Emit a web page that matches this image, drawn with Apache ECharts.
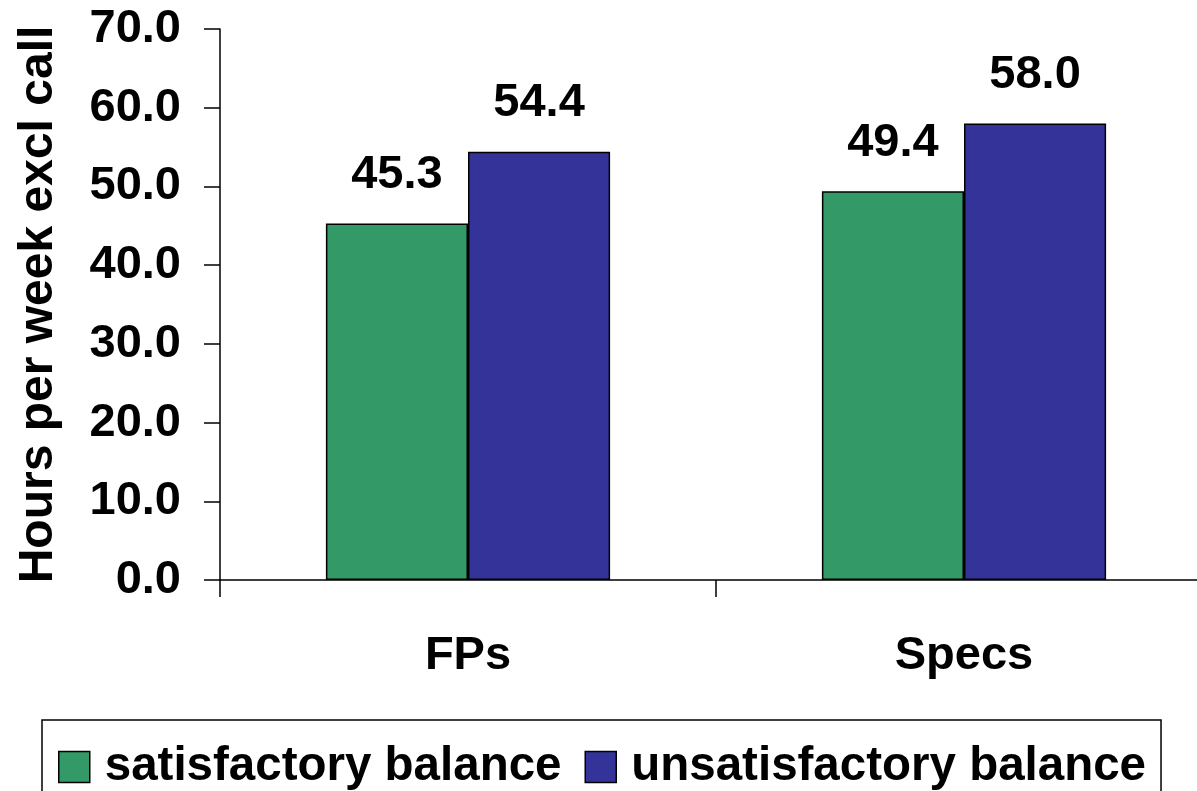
<!DOCTYPE html>
<html>
<head>
<meta charset="utf-8">
<script src="https://cdn.jsdelivr.net/npm/echarts@6/dist/echarts.min.js"></script>
<style>
html,body{margin:0;padding:0;background:#fff;}
#c{width:1197px;height:791px;}
</style>
</head>
<body>
<div id="c"></div>
<script>
const categories = ["FPs", "Specs"];
const seriesNames = ["satisfactory balance", "unsatisfactory balance"];
const satisfactory = [45.3, 49.4];
const unsatisfactory = [54.4, 58.0];
const yAxisName = "Hours per week excl call";

const FONT = "'Liberation Sans', Arial, sans-serif";
const chart = echarts.init(document.getElementById('c'), null, {renderer: 'canvas'});
const labelStyle = {
  show: true, position: 'top', distance: 25,
  fontFamily: FONT, fontWeight: 'bold', fontSize: 47, color: '#000',
  formatter: p => p.value.toFixed(1)
};
chart.setOption({
  animation: false,
  backgroundColor: '#fff',
  grid: {left: 220, width: 992, top: 29, bottom: 211, containLabel: false, outerBoundsMode: 'none'},
  legend: {
    left: 42, top: 720,
    padding: [23, 15, 40, 16],
    borderColor: '#000', borderWidth: 1.5,
    itemWidth: 31, itemHeight: 31, itemGap: 23,
    icon: 'rect',
    itemStyle: {borderColor: '#000', borderWidth: 1.5},
    textStyle: {fontFamily: FONT, fontWeight: 'bold', fontSize: 47.5, color: '#000', padding: [0, 0, 0, 10]},
    data: seriesNames
  },
  xAxis: {
    type: 'category', data: categories,
    axisLine: {lineStyle: {color: '#000', width: 1.5}},
    axisTick: {show: true, length: 17, lineStyle: {color: '#000', width: 1.5}},
    axisLabel: {margin: 53, fontFamily: FONT, fontWeight: 'bold', fontSize: 47, color: '#000'},
    splitLine: {show: false}
  },
  yAxis: {
    type: 'value', min: 0, max: 70, interval: 10,
    name: yAxisName, nameLocation: 'middle', nameGap: 157, nameRotate: 90,
    nameTextStyle: {fontFamily: FONT, fontWeight: 'bold', fontSize: 48, color: '#000'},
    axisLine: {show: true, lineStyle: {color: '#000', width: 1.5}},
    axisTick: {show: true, length: 16, lineStyle: {color: '#000', width: 1.5}},
    axisLabel: {margin: 39, fontFamily: FONT, fontWeight: 'bold', fontSize: 47, color: '#000',
      formatter: v => v.toFixed(1)},
    splitLine: {show: false}
  },
  series: [
    {name: seriesNames[0], type: 'bar', data: satisfactory, barGap: '0%', barCategoryGap: '42.7%',
      itemStyle: {color: '#339966', borderColor: '#000', borderWidth: 1.5}, label: labelStyle},
    {name: seriesNames[1], type: 'bar', data: unsatisfactory, barGap: '0%', barCategoryGap: '42.7%',
      itemStyle: {color: '#333399', borderColor: '#000', borderWidth: 1.5}, label: labelStyle}
  ]
});
</script>
</body>
</html>
